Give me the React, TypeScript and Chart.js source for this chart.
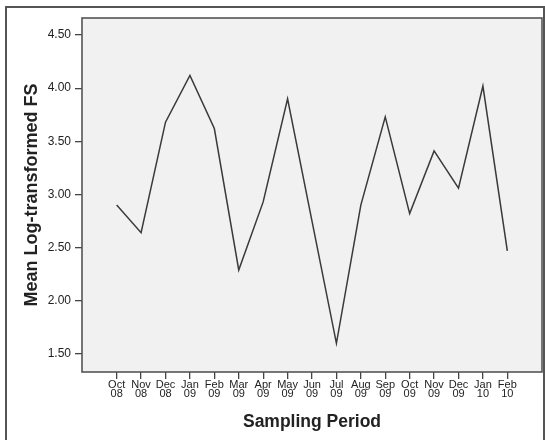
import React, { useEffect, useRef } from "react";
import { Chart, registerables } from "chart.js";

Chart.register(...registerables);

const months = ["Oct", "Nov", "Dec", "Jan", "Feb", "Mar", "Apr", "May", "Jun", "Jul", "Aug", "Sep", "Oct", "Nov", "Dec", "Jan", "Feb"];
const years = ["08", "08", "08", "09", "09", "09", "09", "09", "09", "09", "09", "09", "09", "09", "09", "10", "10"];
const meanLogFS = [2.90, 2.64, 3.68, 4.12, 3.62, 2.29, 2.93, 3.90, 2.75, 1.60, 2.90, 3.73, 2.82, 3.41, 3.06, 4.02, 2.47];
const yTicks = [1.5, 2.0, 2.5, 3.0, 3.5, 4.0, 4.5];

const FONT = "'Liberation Sans', Arial, sans-serif";

const framePlugin = {
  id: "frame",
  beforeDraw(chart: any) {
    const { ctx, chartArea, width, height } = chart;
    ctx.save();
    ctx.fillStyle = "#ffffff";
    ctx.fillRect(0, 0, width, height);
    // outer panel border
    ctx.strokeStyle = "#555555";
    ctx.lineWidth = 2;
    ctx.beginPath();
    ctx.moveTo(6, height + 5);
    ctx.lineTo(6, 7);
    ctx.lineTo(544, 7);
    ctx.lineTo(544, height + 5);
    ctx.stroke();
    // plot background
    ctx.fillStyle = "#f1f1f1";
    ctx.fillRect(chartArea.left, chartArea.top, chartArea.right - chartArea.left, chartArea.bottom - chartArea.top);
    ctx.restore();
  },
  afterDatasetsDraw(chart: any) {
    const { ctx, chartArea } = chart;
    ctx.save();
    ctx.strokeStyle = "#555555";
    ctx.lineWidth = 1.6;
    ctx.strokeRect(chartArea.left, chartArea.top, chartArea.right - chartArea.left, chartArea.bottom - chartArea.top);
    ctx.restore();
  },
};

export default function App() {
  const ref = useRef<HTMLCanvasElement | null>(null);

  useEffect(() => {
    document.body.style.margin = "0";
    const canvas = ref.current;
    if (!canvas) return;
    const points = meanLogFS.map((v, i) => ({ x: i, y: v }));
    const chart = new Chart(canvas, {
      type: "line",
      data: {
        datasets: [
          {
            data: points,
            borderColor: "#3a3a3a",
            borderWidth: 1.5,
            pointRadius: 0,
            tension: 0,
            fill: false,
          },
        ],
      },
      options: {
        animation: false,
        responsive: false,
        devicePixelRatio: 1,
        layout: { padding: { top: 18, right: 3, left: 0, bottom: 0 } },
        plugins: { legend: { display: false }, tooltip: { enabled: false } },
        scales: {
          x: {
            type: "linear",
            min: -1.42,
            max: 16 + 1.42,
            afterBuildTicks: (scale: any) => {
              scale.ticks = months.map((_, i) => ({ value: i }));
            },
            afterFit: (scale: any) => {
              scale.height = 68;
            },
            border: { display: false },
            grid: { drawOnChartArea: false, drawTicks: true, tickLength: 7, color: "#444444", lineWidth: 1.3 },
            ticks: {
              autoSkip: false,
              maxRotation: 0,
              padding: 1,
              color: "#222222",
              font: { family: FONT, size: 11, lineHeight: 0.85 },
              callback: (v: any) => {
                const i = Math.round(Number(v));
                return [months[i], years[i]];
              },
            },
            title: {
              display: true,
              text: "Sampling Period",
              color: "#222222",
              font: { family: FONT, size: 17.5, weight: "bold", lineHeight: 1.2 },
              padding: { top: 0, bottom: 7.5 },
            },
          },
          y: {
            type: "linear",
            min: 1.33,
            max: 4.66,
            afterBuildTicks: (scale: any) => {
              scale.ticks = yTicks.map((v) => ({ value: v }));
            },
            afterFit: (scale: any) => {
              scale.width = 82;
            },
            border: { display: false },
            grid: { drawOnChartArea: false, drawTicks: true, tickLength: 7, color: "#444444", lineWidth: 1.3 },
            ticks: {
              padding: 4,
              color: "#222222",
              font: { family: FONT, size: 12 },
              callback: (v: any) => Number(v).toFixed(2),
            },
            title: {
              display: true,
              text: "Mean Log-transformed FS",
              color: "#222222",
              font: { family: FONT, size: 18, weight: "bold", lineHeight: 1.2 },
              padding: { top: 21, bottom: 0 },
            },
          },
        },
      },
      plugins: [framePlugin],
    });
    return () => chart.destroy();
  }, []);

  return <canvas ref={ref} width={545} height={440} style={{ display: "block", width: 545, height: 440 }} />;
}
